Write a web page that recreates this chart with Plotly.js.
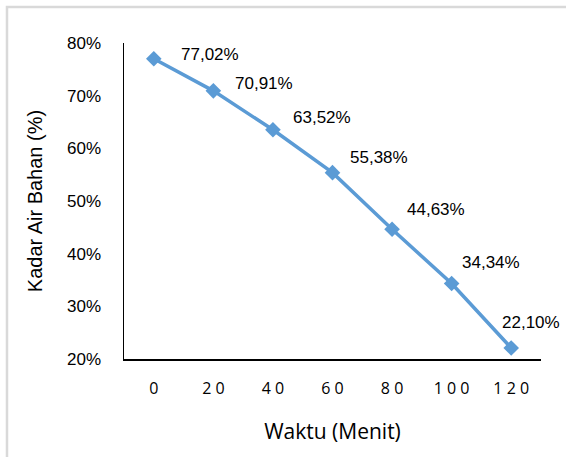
<!DOCTYPE html>
<html>
<head>
<meta charset="utf-8">
<script src="https://cdn.plot.ly/plotly-3.0.1.min.js"></script>
<style>
  html, body { margin: 0; padding: 0; background: #ffffff; }
  #chart { width: 566px; height: 457px; }
</style>
</head>
<body>
<div id="chart"></div>
<script>
// Drying time (minutes) and remaining moisture content (%)
var waktu = ['0', '20', '40', '60', '80', '100', '120'];
var kadarAir = [77.02, 70.91, 63.52, 55.38, 44.63, 34.34, 22.10];
var yTickVals = [20, 30, 40, 50, 60, 70, 80];
var yTickText = ['20%', '30%', '40%', '50%', '60%', '70%', '80%'];

// Pixel offsets of each value label relative to its marker
var labelDx = [25, 20, 18, 15, 13, 8, -11];
var labelDy = [4, 7, 12, 15, 20, 21, 25];

var lineColor = '#5B9BD5';
var labelFont = { family: 'Liberation Sans, Arial, sans-serif', size: 17, color: '#000000' };

function fmt(v) {
  return v.toFixed(2).replace('.', ',') + '%';
}

// Time labels are drawn with spaced-out digits
var waktuText = waktu.map(function (t) { return t.split('').join(' '); });

var annotations = kadarAir.map(function (v, i) {
  return {
    x: i, y: v, xref: 'x', yref: 'y',
    text: fmt(v), showarrow: false,
    xanchor: 'left', yanchor: 'middle',
    xshift: labelDx[i], yshift: labelDy[i],
    font: labelFont
  };
});

var trace = {
  x: waktu,
  y: kadarAir,
  type: 'scatter',
  mode: 'lines+markers',
  line: { color: lineColor, width: 3.5 },
  marker: { symbol: 'diamond', size: 12, color: lineColor },
  hoverinfo: 'skip'
};

var layout = {
  width: 566, height: 457,
  margin: { l: 124, r: 25, t: 43, b: 98 },
  paper_bgcolor: '#ffffff', plot_bgcolor: '#ffffff',
  showlegend: false,
  xaxis: {
    type: 'category',
    range: [-0.5, 6.5],
    tickvals: waktu, ticktext: waktuText,
    showgrid: false, zeroline: false,
    showline: true, linecolor: '#000000', linewidth: 1.5,
    ticks: 'outside', ticklen: 14, tickcolor: 'rgba(0,0,0,0)',
    tickfont: { family: 'Open Sans, sans-serif', size: 16, color: '#000000' },
    title: { text: 'Waktu (Menit)', standoff: 26,
             font: { family: 'Open Sans, sans-serif', size: 21, color: '#000000' } }
  },
  yaxis: {
    range: [20, 80],
    tickvals: yTickVals, ticktext: yTickText,
    showgrid: false, zeroline: false,
    showline: true, linecolor: '#000000', linewidth: 1.5,
    ticks: 'outside', ticklen: 18, tickcolor: 'rgba(0,0,0,0)',
    tickfont: { family: 'Liberation Sans, Arial, sans-serif', size: 17, color: '#000000' },
    title: { text: 'Kadar Air Bahan (%)', standoff: 19,
             font: { family: 'Liberation Sans, Arial, sans-serif', size: 20, color: '#000000' } }
  },
  annotations: annotations,
  shapes: [{
    type: 'rect', xref: 'paper', yref: 'paper',
    x0: -0.2806, x1: 1.075, y0: -0.33, y1: 1.1139,
    line: { color: '#d9d9d9', width: 2.5 },
    fillcolor: 'rgba(0,0,0,0)', layer: 'below'
  }]
};

Plotly.newPlot('chart', [trace], layout, { displayModeBar: false, staticPlot: true });
</script>
</body>
</html>
